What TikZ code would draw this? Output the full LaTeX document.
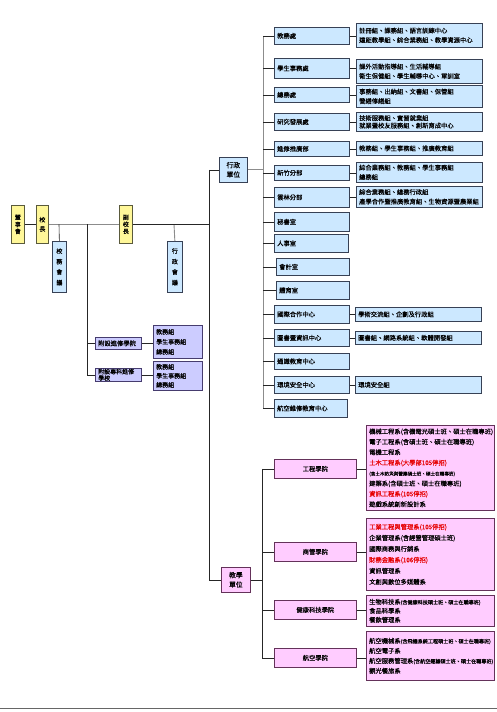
\documentclass[tikz,border=0pt]{standalone}
\usepackage{fontspec}
\newfontfamily\cjk[FakeBold=0.15]{Noto Sans CJK TC}
\definecolor{yel}{RGB}{255,247,153}
\definecolor{yelb}{RGB}{90,90,60}
\definecolor{blu}{RGB}{204,232,255}
\definecolor{blub}{RGB}{55,65,85}
\definecolor{lav}{RGB}{204,204,255}
\definecolor{lavb}{RGB}{70,60,110}
\definecolor{pnk}{RGB}{255,204,255}
\definecolor{pnkb}{RGB}{100,50,90}
\definecolor{redt}{RGB}{230,0,0}
\tikzset{
  ybox/.style={draw=yelb,fill=yel,line width=0.7pt,inner sep=0pt},
  bbox/.style={draw=blub,fill=blu,line width=0.7pt,inner sep=0pt},
  lbox/.style={draw=lavb,fill=lav,line width=0.7pt,inner sep=0pt},
  pbox/.style={draw=pnkb,fill=pnk,line width=0.7pt,inner sep=0pt},
  txt/.style={inner sep=0pt,align=left,font=\cjk\fontsize{6.3}{9.5}\selectfont},
  ctxt/.style={inner sep=0pt,align=center,font=\cjk\fontsize{6.3}{9.5}\selectfont},
  ln/.style={draw=black!85,line width=0.6pt},
  gln/.style={draw=black!45,line width=0.9pt}
}
% box with left text
\newcommand\bxl[8][]{\node[#6,minimum width=#4pt,minimum height=#5pt,anchor=north west] (#2) at (#3) {};
  \node[txt,anchor=west,#1] (#2t) at ([xshift=3pt]#2.west) {#7#8};}
% box with centred text
\newcommand\bxc[8][]{\node[#6,minimum width=#4pt,minimum height=#5pt,anchor=north west] (#2) at (#3) {};
  \node[ctxt,#1] (#2t) at (#2.center) {#7#8};}
\newcommand\sm[1]{{\fontsize{4.6}{5}\selectfont #1}}
\newcommand\smb[1]{{\fontsize{5.1}{5.5}\selectfont #1}}
\newcommand\rd[1]{\textcolor{redt}{#1}}
\begin{document}
\begin{tikzpicture}[x=1pt,y=-1pt]
\useasboundingbox (0,0) rectangle (497,712);
\fill[white] (0,0) rectangle (497,712);
% top chain
\bxc[font=\cjk\fontsize{6}{7}\selectfont]{dsh}{11,205}{13}{38}{ybox}{董\\事\\會}{}
\bxc[font=\cjk\fontsize{6}{9.3}\selectfont]{xz}{36,205}{12}{38}{ybox}{校\\長}{}
\bxc[font=\cjk\fontsize{6}{7}\selectfont]{fxz}{119,205}{13}{38}{ybox}{副\\校\\長}{}
\bxc[font=\cjk\fontsize{6}{10.5}\selectfont]{xwhy}{52,241}{14}{51}{bbox}{校\\務\\會\\議}{}
\bxc[font=\cjk\fontsize{6}{10.5}\selectfont]{xzhy}{167,241}{15}{51}{bbox}{行\\政\\會\\議}{}
% unit boxes
\bxc[font=\cjk\fontsize{6.8}{9.5}\selectfont]{xzdw}{219,157}{28}{25}{bbox}{行政\\單位}{}
\bxc[font=\cjk\fontsize{6.8}{9.5}\selectfont]{jxdw}{221,567}{29}{25}{pbox}{教學\\單位}{}
% admin column
\bxl{a1}{274,27}{75}{17}{bbox}{教務處}{}
\bxl{a2}{274,58}{75}{20}{bbox}{學生事務處}{}
\bxl{a3}{274,87}{75}{15}{bbox}{總務處}{}
\bxl{a4}{274,113}{75}{17}{bbox}{研究發展處}{}
\bxl{a5}{274,141}{75}{15}{bbox}{進修推廣部}{}
\bxl{a6}{274,165}{75}{15}{bbox}{新竹分部}{}
\bxl{a7}{274,187}{75}{20}{bbox}{雲林分部}{}
\bxl{a8}{274,212}{75}{19}{bbox}{秘書室}{}
\bxl{a9}{274,234}{74}{18}{bbox}{人事室}{}
\bxl{a10}{276,258}{73}{17}{bbox}{會計室}{}
\bxl{a11}{276,281}{73}{18}{bbox}{體育室}{}
\bxl{a12}{274,305}{75}{18}{bbox}{國際合作中心}{}
\bxl{a13}{274,329}{75}{17}{bbox}{圖書暨資訊中心}{}
\bxl{a14}{274,353}{75}{16}{bbox}{通識教育中心}{}
\bxl{a15}{274,376}{75}{17}{bbox}{環境安全中心}{}
\bxl{a16}{274,399}{73}{18}{bbox}{航空維修教育中心}{}
% admin details
\bxl{d1}{356,23}{126}{24}{bbox}{註冊組、課務組、語言訓練中心\\遠距教學組、綜合業務組、教學資源中心}{}
\bxl{d2}{356,59}{126}{24}{bbox}{課外活動指導組、生活輔導組\\衛生保健組、學生輔導中心、軍訓室}{}
\bxl{d3}{356,85}{126}{22}{bbox}{事務組、出納組、文書組、保管組\\營繕修繕組}{}
\bxl[font=\cjk\fontsize{6.3}{7.5}\selectfont]{d4}{356,112}{126}{19}{bbox}{技術服務組、實習就業組\\就業暨校友服務組、創新育成中心}{}
\bxl{d5}{356,141}{126}{14}{bbox}{教務組、學生事務組、推廣教育組}{}
\bxl{d6}{356,162}{126}{20}{bbox}{綜合業務組、教務組、學生事務組\\總務組}{}
\bxl{d7}{356,186}{126}{21}{bbox}{綜合業務組、總務行政組\\產學合作暨推廣教育組、生物資源暨農業組}{}
\bxl{d12}{355,307}{126}{14}{bbox}{學術交流組、企劃及行政組}{}
\bxl{d13}{355,331}{126}{13}{bbox}{圖書組、網路系統組、軟體開發組}{}
\bxl{d15}{355,376}{126}{17}{bbox}{環境安全組}{}
% affiliated schools
\bxl{f1}{95,337}{46}{12}{lbox}{附設進修學院}{}
\bxl[font=\cjk\fontsize{6}{6.5}\selectfont]{f2}{95,368}{46}{13}{lbox}{附設專科進修\\學校}{}
\bxl[font=\cjk\fontsize{6}{10}\selectfont]{fd1}{153,325}{49}{33}{lbox}{教務組\\學生事務組\\總務組}{}
\bxl[font=\cjk\fontsize{6}{9}\selectfont]{fd2}{153,361}{49}{29}{lbox}{教務組\\學生事務組\\總務組}{}
% colleges
\bxc{c1}{274,459}{82}{19}{pbox}{工程學院}{}
\bxc{c2}{274,542}{82}{19}{pbox}{商管學院}{}
\bxc{c3}{274,600}{82}{19}{pbox}{健康科技學院}{}
\bxc{c4}{274,648}{82}{19}{pbox}{航空學院}{}
\bxl[font=\cjk\fontsize{6.3}{10.4}\selectfont]{e1}{366,425}{128}{85}{pbox}{機械工程系(含機電光碩士班、碩士在職專班)\\電子工程系(含碩士班、碩士在職專班)\\電機工程系\\\rd{土木工程系(大學部105停招)}\\\sm{(含土木防災與營建碩士班、碩士在職專班)}\\建築系(含碩士班、碩士在職專班)\\\rd{資訊工程系(105停招)}\\遊戲系統創新設計系}{}
\bxl[font=\cjk\fontsize{6.3}{11}\selectfont]{e2}{366,518}{128}{72}{pbox}{\rd{工業工程與管理系(105停招)}\\企業管理系(含經營管理碩士班)\\國際商務與行銷系\\\rd{財務金融系(106停招)}\\資訊管理系\\文創與數位多媒體系}{}
\bxl[font=\cjk\fontsize{6.3}{9}\selectfont]{e3}{366,595}{128}{31}{pbox}{生物科技系\smb{(含健康科技碩士班、碩士在職專班)}\\食品科學系\\餐飲管理系}{}
\bxl[font=\cjk\fontsize{6.3}{10}\selectfont]{e4}{366,631}{128}{49}{pbox}{航空機械系\smb{(含飛機系統工程碩士班、碩士在職專班)}\\航空電子系\\航空服務管理系\smb{(含航空運輸碩士班、碩士在職專班)}\\觀光餐旅系}{}
% trunk coordinates
\coordinate (tx) at (263,0);
\coordinate (tl) at (262,0);
\coordinate (vm) at (209,0);
\coordinate (v1) at (59,0);
\coordinate (v2) at (87,0);
\coordinate (v3) at (174,0);
% connectors top chain
\draw[ln] (dsh.east) -- (xz.west |- dsh.east);
\draw[gln] (xz.east) -- (fxz.west);
\draw[ln] (xz.east -| v1) -- (xwhy.north);
\draw[gln] (fxz.east -| v3) -- (xzhy.north);
\draw[ln] (fxz.east) -- (fxz.east -| vm);
\draw[ln] (xzdw.west -| vm) -- (jxdw.west -| vm);
\draw[ln] (xzdw.west -| vm) -- (xzdw.west);
\draw[ln] (jxdw.west -| vm) -- (jxdw.west);
\draw[ln] (xz.east -| v2) -- (f2.west -| v2) -- (f2.west);
\draw[ln] (f1.west -| v2) -- (f1.west);
\draw[ln] (f1.east) -- (fd1.west |- f1.east);
\draw[ln] (f2.east) -- (fd2.west |- f2.east);
% admin trunk
\draw[gln] (xzdw.east) -- (xzdw.east -| tx);
\draw[gln] (a1.west -| tx) -- (a16.west -| tx);
\foreach \i in {1,...,16}{\draw[ln] (a\i.west -| tx) -- (a\i.west);}
\foreach \i in {1,...,7}{\draw[ln] (a\i.east) -- (d\i.west |- a\i.east);}
\foreach \i in {12,13,15}{\draw[ln] (a\i.east) -- (d\i.west |- a\i.east);}
% teaching trunk
\draw[ln] (jxdw.east) -- (jxdw.east -| tl);
\draw[ln] (c1.west -| tl) -- (c4.west -| tl);
\foreach \i in {1,...,4}{\draw[ln] (c\i.west -| tl) -- (c\i.west);
  \draw[ln] (c\i.east) -- (e\i.west |- c\i.east);}
% bottom rule
\coordinate (bl) at (0,708);
\coordinate (br) at (497,708);
\draw[draw=black!60,line width=0.6pt] (bl) -- (br);
\end{tikzpicture}
\end{document}
